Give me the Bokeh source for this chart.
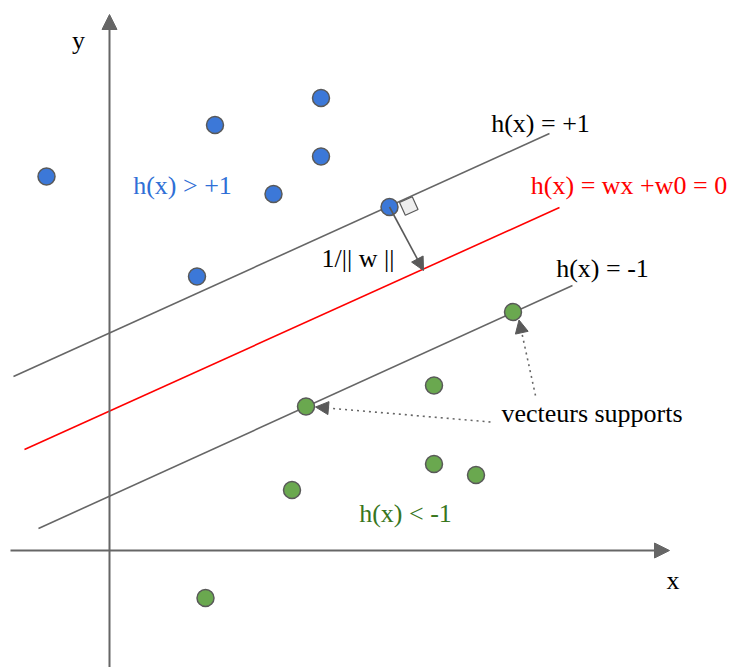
from bokeh.plotting import figure
from bokeh.models import Arrow, NormalHead, ColumnDataSource
from bokeh.core.properties import value
from bokeh.embed import file_html
from bokeh.resources import INLINE
import numpy as np

# ---- data (units: 1 = 50 px, origin at axes crossing) ----
blue_x = [-1.26, 2.11, 4.23, 4.23, 3.28, 1.75, 5.60]
blue_y = [7.48, 8.51, 9.05, 7.88, 7.13, 5.48, 6.87]

green_x = [8.07, 6.49, 3.93, 6.49, 7.33, 3.65, 1.92]
green_y = [4.77, 3.30, 2.88, 1.73, 1.51, 1.21, -0.95]

line_names = ["upper", "middle", "lower"]
line_x0 = [-1.92, -1.70, -1.42]
line_y0 = [3.48, 2.02, 0.44]
line_x1 = [8.80, 9.00, 9.26]
line_y1 = [8.34, 6.86, 5.30]
line_colors = ["#666666", "#ff0000", "#666666"]

labels = ["y", "x", "h(x) = +1", "h(x) = wx +w0 = 0", "h(x) = -1",
          "h(x) > +1", "1/|| w ||", "vecteurs supports", "h(x) < -1"]
label_x = [-0.62, 11.27, 8.62, 10.39, 9.86, 1.46, 4.97, 9.65, 5.92]
label_y = [10.20, -0.59, 8.54, 7.30, 5.64, 7.30, 5.85, 2.74, 0.75]
label_colors = ["#000000", "#000000", "#000000", "#ff0000", "#000000",
                "#2f6fd6", "#000000", "#000000", "#38761d"]

# axes arrows: start -> tip
axis_x0 = [-1.98, 0.0]
axis_y0 = [0.0, -2.40]
axis_x1 = [11.20, 0.0]
axis_y1 = [0.0, 10.72]

# margin arrow (support vector -> decision line)
margin_start = (5.60, 6.87)
margin_tip = (6.28, 5.60)

# dotted arrows from "vecteurs supports" label to support vectors
dot_x0 = [7.62, 8.52]
dot_y0 = [2.57, 3.10]
dot_x1 = [4.12, 8.19]
dot_y1 = [2.87, 4.61]

# right-angle marker sizes (data units)
sq_offset = 0.22
sq_side = 0.28

p = figure(width=729, height=667, x_range=(-2.18, 12.40), y_range=(-2.34, 11.0),
           output_backend="svg", toolbar_location=None, min_border=0)
p.axis.visible = False
p.grid.visible = False
p.outline_line_color = None
p.background_fill_color = "white"

axc = "#666666"
for x0, y0, x1, y1 in zip(axis_x0, axis_y0, axis_x1, axis_y1):
    p.add_layout(Arrow(x_start=x0, y_start=y0, x_end=x1, y_end=y1,
                       line_color=axc, line_width=2,
                       end=NormalHead(size=15, fill_color=axc, line_color=axc, line_width=1)))

p.segment(x0=line_x0, y0=line_y0, x1=line_x1, y1=line_y1,
          line_color=line_colors, line_width=1.6)

# right-angle square next to the support vector on the upper line
slope = (line_y1[0] - line_y0[0]) / (line_x1[0] - line_x0[0])
u = np.array([1.0, slope]) / np.hypot(1.0, slope)
n = np.array([u[1], -u[0]])
c = np.array(margin_start)
A = c + sq_offset * u
B = A + sq_side * u
C = B + sq_side * n
D = A + sq_side * n
p.patch([A[0], B[0], C[0], D[0]], [A[1], B[1], C[1], D[1]],
        fill_color="#eeeeee", line_color="#595959", line_width=1.2)

p.add_layout(Arrow(x_start=margin_start[0], y_start=margin_start[1],
                   x_end=margin_tip[0], y_end=margin_tip[1],
                   line_color="#595959", line_width=1.6,
                   end=NormalHead(size=13, fill_color="#595959", line_color="#595959", line_width=1)))

for x0, y0, x1, y1 in zip(dot_x0, dot_y0, dot_x1, dot_y1):
    p.add_layout(Arrow(x_start=x0, y_start=y0, x_end=x1, y_end=y1,
                       line_color="#666666", line_width=1.6, line_dash="2 4",
                       end=NormalHead(size=13, fill_color="#595959", line_color="#595959", line_width=1)))

p.scatter(blue_x, blue_y, size=17, fill_color="#3c78d8", line_color="#595959", line_width=1.5)
p.scatter(green_x, green_y, size=17, fill_color="#6aa84f", line_color="#595959", line_width=1.5)

src = ColumnDataSource(dict(x=label_x, y=label_y, t=labels, c=label_colors))
p.text(x="x", y="y", text="t", source=src, text_color="c",
       text_font=value("Liberation Serif"), text_font_size="26px",
       text_align="center", text_baseline="middle")

open("out.html", "w").write(file_html(p, INLINE))
